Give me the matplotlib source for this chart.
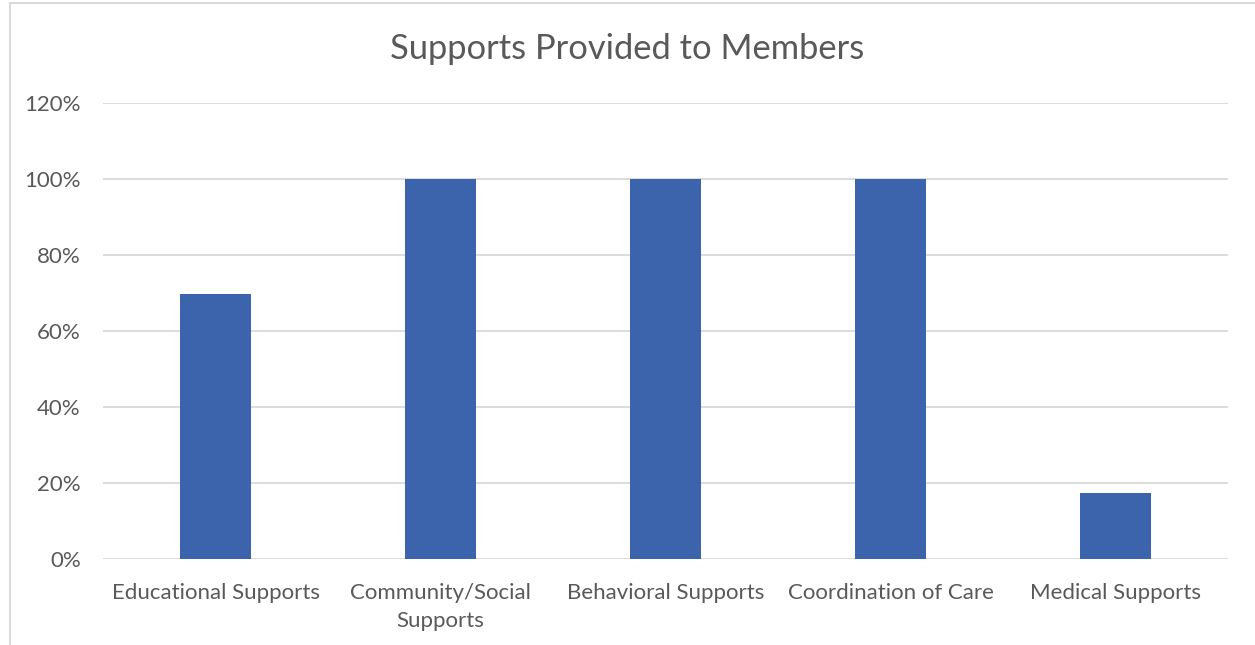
import matplotlib
matplotlib.use('Agg')
from matplotlib import pyplot as plt
from matplotlib.lines import Line2D
from matplotlib.ticker import PercentFormatter

categories = ['Educational Supports', 'Community/Social\nSupports', 'Behavioral Supports',
              'Coordination of Care', 'Medical Supports']
shares = [0.697, 1.0, 1.0, 1.0, 0.174]
yticks = [0, 0.2, 0.4, 0.6, 0.8, 1.0, 1.2]

plt.rcParams['font.family'] = ['Lato', 'DejaVu Sans']
text_col = '#595959'
grid_col = '#D9D9D9'

fig = plt.figure(figsize=(12.55, 6.45), dpi=100)
ax = fig.add_axes([0.0821, 0.1333, 0.8964, 0.7070])

x = range(len(categories))
ax.bar(x, shares, width=0.316, color='#3C64AD', zorder=3)

ax.set_xlim(-0.5, len(categories) - 0.5)
ax.set_ylim(0, 1.2)
ax.set_yticks(yticks)
ax.yaxis.set_major_formatter(PercentFormatter(1.0, decimals=0))
ax.set_xticks(list(x))
ax.set_xticklabels(categories, linespacing=1.55)
ax.tick_params(axis='both', length=0, labelsize=16, labelcolor=text_col)
ax.tick_params(axis='x', pad=17)
ax.tick_params(axis='y', pad=16)
for lab in ax.get_xticklabels():
    lab.set_verticalalignment('top')

ax.grid(axis='y', color=grid_col, linewidth=1.3, zorder=0)
for s in ax.spines.values():
    s.set_visible(False)

fig.text(0.5, 1 - 49 / 645, 'Supports Provided to Members', ha='center', va='center',
         fontsize=24.8, color=text_col)

# chart frame, left and top edges
fig.add_artist(Line2D([10 / 1255, 10 / 1255], [0, 1 - 3 / 645], color=grid_col, lw=1.5))
fig.add_artist(Line2D([10 / 1255, 1], [1 - 3 / 645, 1 - 3 / 645], color=grid_col, lw=1.5))

fig.savefig('out.png', dpi=100, facecolor='white')
